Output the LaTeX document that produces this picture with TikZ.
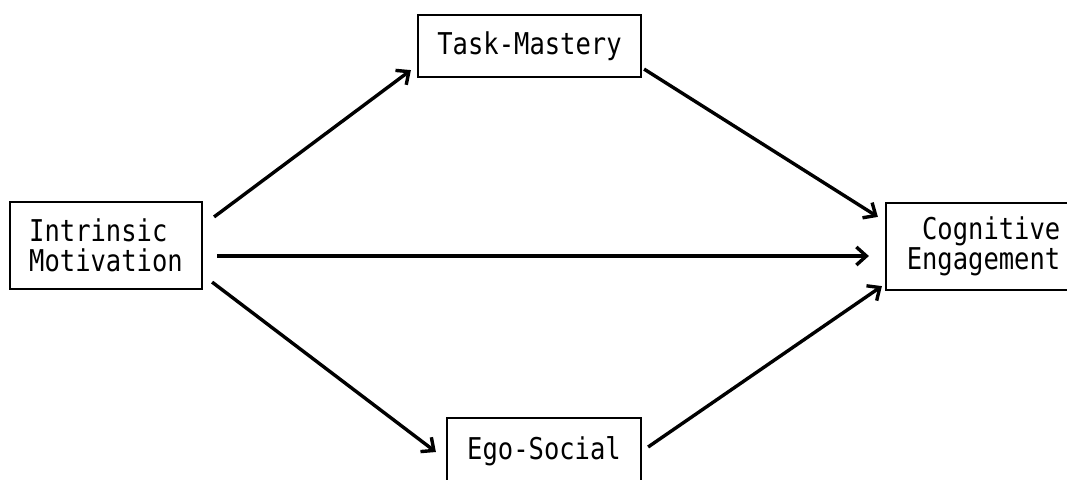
\documentclass[tikz,border=0pt]{standalone}
\usepackage{fontspec}
\usepackage{tikz}
\usetikzlibrary{arrows.meta}
\newfontfamily\typefont[FakeStretch=0.85]{DejaVu Sans Mono}
\newcommand{\boxfont}{\typefont\fontsize{30}{30}\selectfont}
\tikzset{%
	box/.style = { draw, line width=2.2pt, inner sep=0pt, font=\boxfont },
	link/.style = { line width=3.4pt, -{Straight Barb[length=10pt, width=18pt]} }
}
\begin{document}
\begin{tikzpicture}[x=1pt, y=-1pt]
	\useasboundingbox (0,0) rectangle (1067,479);
	% boxes
	\node[box, minimum width=192pt, minimum height=87pt, align=left] (im) at (106,245.5) {Intrinsic\\Motivation};
	\node[box, minimum width=223pt, minimum height=62pt] (tm) at (529.5,46) {Task-Mastery};
	\node[box, minimum width=194pt, minimum height=66pt] (es) at (544,451) {Ego-Social};
	\node[box, minimum width=195pt, minimum height=87pt, align=right] (ce) at (983.5,246.5) {Cognitive\\Engagement};
	% paths
	\draw[link] ([xshift=11pt, yshift=-16pt]im.north east) -- ([xshift=-6pt, yshift=8pt]tm.south west);
	\draw[link] ([xshift=2pt, yshift=9pt]tm.south east) -- ([xshift=-7pt, yshift=-15pt]ce.north west);
	\draw[link] ([xshift=14pt, yshift=-10.5pt]im.east) -- ([xshift=-16pt, yshift=-9.5pt]ce.west);
	\draw[link] ([xshift=9pt, yshift=8pt]im.south east) -- ([xshift=-10pt, yshift=-1pt]es.west);
	\draw[link] ([xshift=6pt, yshift=4pt]es.east) -- ([xshift=-3pt, yshift=5pt]ce.south west);
\end{tikzpicture}
\end{document}
